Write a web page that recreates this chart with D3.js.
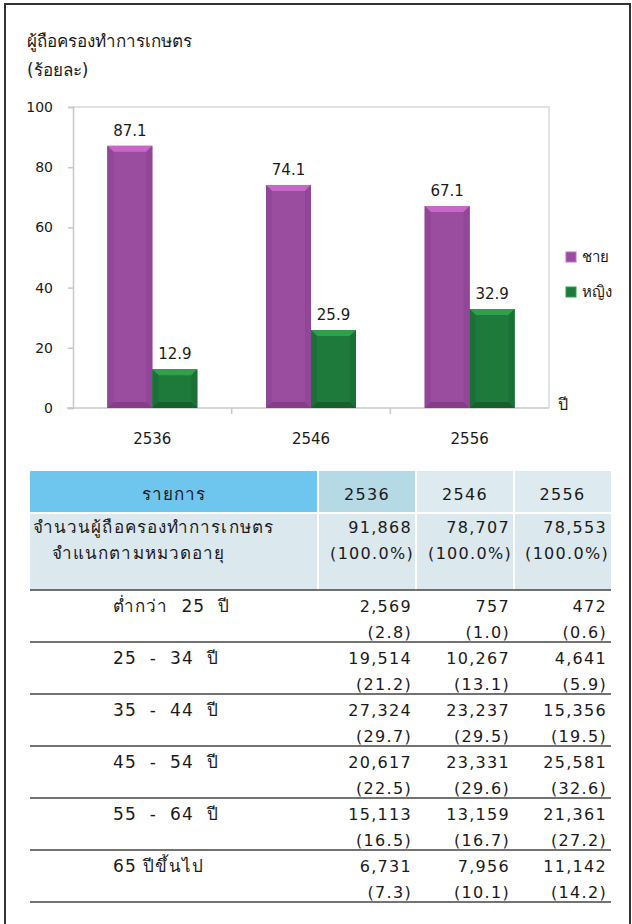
<!DOCTYPE html>
<html>
<head>
<meta charset="utf-8">
<script src="https://cdn.jsdelivr.net/npm/d3@7"></script>
<style>
    body { margin: 0; background: #fff; }
    svg text { font-family: "DejaVu Sans", sans-serif; fill: #1a1a1a; }
</style>
</head>
<body>
<div id="chart"></div>
<script>
const years = ["2536", "2546", "2556"];
const seriesNames = ["ชาย", "หญิง"];
const maleValues = [87.1, 74.1, 67.1];
const femaleValues = [12.9, 25.9, 32.9];
const yTicks = [0, 20, 40, 60, 80, 100];

const totalCounts = ["91,868", "78,707", "78,553"];
const totalShares = ["(100.0%)", "(100.0%)", "(100.0%)"];
const ageGroups = ["ต่ำกว่า  25  ปี", "25  -  34  ปี", "35  -  44  ปี", "45  -  54  ปี", "55  -  64  ปี", "65 ปีขึ้นไป"];
const ageCounts = [
    ["2,569", "757", "472"],
    ["19,514", "10,267", "4,641"],
    ["27,324", "23,237", "15,356"],
    ["20,617", "23,331", "25,581"],
    ["15,113", "13,159", "21,361"],
    ["6,731", "7,956", "11,142"],
];
const ageShares = [
    ["(2.8)", "(1.0)", "(0.6)"],
    ["(21.2)", "(13.1)", "(5.9)"],
    ["(29.7)", "(29.5)", "(19.5)"],
    ["(22.5)", "(29.6)", "(32.6)"],
    ["(16.5)", "(16.7)", "(27.2)"],
    ["(7.3)", "(10.1)", "(14.2)"],
];

const W = 632, H = 924;
const colors = {
    "ชาย": { main: "#9a4c9e", top: "#c768c6", side: "#914697", bottom: "#843d88" },
    "หญิง": { main: "#1e7a3b", top: "#2f9f4c", side: "#1b7038", bottom: "#16602e" },
};

const svg = d3.select("#chart").append("svg").attr("width", W).attr("height", H);

// outer frame
svg.append("rect").attr("x", 5).attr("y", 4).attr("width", 625).attr("height", H)
    .attr("fill", "none").attr("stroke", "#333").attr("stroke-width", 2);

// title
svg.append("text").attr("x", 27).attr("y", 47).style("font-size", "17px").text("ผู้ถือครองทำการเกษตร");
svg.append("text").attr("x", 27).attr("y", 76).style("font-size", "17px").text("(ร้อยละ)");

// ---- bar chart ----
const plot = { left: 73, right: 549, top: 107, bottom: 408 };
const x = d3.scaleBand().domain(years).range([plot.left, plot.right]);
const y = d3.scaleLinear().domain([0, 100]).range([plot.bottom, plot.top]);
const xs = d3.scaleBand().domain(seriesNames).range([-45, 45]);

// plot area frame (top + right)
svg.append("path")
    .attr("d", `M${plot.left},${plot.top}H${plot.right}V${plot.bottom}`)
    .attr("fill", "none").attr("stroke", "#d9d9d9").attr("stroke-width", 1.5);

const yAxis = svg.append("g").attr("transform", `translate(${plot.left},0)`)
    .call(d3.axisLeft(y).tickValues(yTicks).tickSize(5).tickPadding(15));
yAxis.select(".domain").attr("stroke", "#c8c8c8").attr("stroke-width", 1.5);
yAxis.selectAll(".tick line").attr("stroke", "#c8c8c8").attr("stroke-width", 1.5);
yAxis.selectAll("text").style("font-size", "14px").style("font-family", "'DejaVu Sans', sans-serif").attr("fill", "#1a1a1a");

const xAxis = svg.append("g").attr("transform", `translate(0,${plot.bottom})`)
    .call(d3.axisBottom(x).tickSize(0).tickPadding(25));
xAxis.select(".domain").attr("stroke", "#c8c8c8").attr("stroke-width", 1.5)
    .attr("d", `M${plot.left - 6},0H${plot.right}`);
xAxis.selectAll("text").style("font-size", "15px").style("font-family", "'DejaVu Sans', sans-serif").attr("fill", "#1a1a1a");
// category separators
xAxis.selectAll(".sep").data(years.slice(1)).enter().append("line")
    .attr("x1", d => x(d)).attr("x2", d => x(d)).attr("y1", 0).attr("y2", 6)
    .attr("stroke", "#c8c8c8").attr("stroke-width", 1.5);

const barData = [];
years.forEach((yr, i) => {
    barData.push({ year: yr, series: "ชาย", value: maleValues[i] });
    barData.push({ year: yr, series: "หญิง", value: femaleValues[i] });
});

const bevel = 6;
const bars = svg.append("g").selectAll("g").data(barData).enter().append("g");
bars.each(function (d) {
    const g = d3.select(this);
    const x0 = x(d.year) + x.bandwidth() / 2 + xs(d.series);
    const x1 = x0 + xs.bandwidth();
    const y0 = y(d.value), y1 = y(0);
    const c = colors[d.series];
    const b = Math.min(bevel, (y1 - y0) / 2);
    g.append("rect").attr("x", x0).attr("y", y0).attr("width", x1 - x0).attr("height", y1 - y0).attr("fill", c.main);
    const poly = (pts, fill) => g.append("polygon").attr("points", pts.map(p => p.join(",")).join(" ")).attr("fill", fill);
    poly([[x0, y0], [x1, y0], [x1 - b, y0 + b], [x0 + b, y0 + b]], c.top);
    poly([[x0, y0], [x0 + b, y0 + b], [x0 + b, y1 - b], [x0, y1]], c.side);
    poly([[x1, y0], [x1 - b, y0 + b], [x1 - b, y1 - b], [x1, y1]], c.side);
    poly([[x0, y1], [x0 + b, y1 - b], [x1 - b, y1 - b], [x1, y1]], c.bottom);
    g.append("text").attr("x", (x0 + x1) / 2).attr("y", y0 - 10)
        .attr("text-anchor", "middle").style("font-size", "15px").text(d.value.toFixed(1));
});

// legend
const legend = svg.append("g").selectAll("g").data(seriesNames).enter().append("g")
    .attr("transform", (d, i) => `translate(566,${252 + i * 35})`);
legend.append("rect").attr("width", 10).attr("height", 10)
    .attr("fill", d => colors[d].main).attr("stroke", d => colors[d].top).attr("stroke-width", 1);
legend.append("text").attr("x", 16).attr("y", 10).style("font-size", "15px").text(d => d);

svg.append("text").attr("x", 558).attr("y", 410).style("font-size", "16px").text("ปี");

// ---- table ----
const colEdges = [30, 318, 416, 514, 611];
const headTop = 471, headBottom = 513, row1Bottom = 590, groupH = 52;
const headFills = ["#6ec6ef", "#b5d9e5", "#ddebf0", "#ddebf0"];
const table = svg.append("g");
const thaiFont = "17px", numFont = "16px";
const thaiSpacing = "1.1px", numSpacing = "1.3px";

table.append("rect").attr("x", colEdges[0]).attr("y", headBottom)
    .attr("width", colEdges[4] - colEdges[0]).attr("height", row1Bottom - headBottom).attr("fill", "#dbe8ee");
table.selectAll(".head").data(headFills).enter().append("rect")
    .attr("x", (d, i) => colEdges[i]).attr("y", headTop)
    .attr("width", (d, i) => colEdges[i + 1] - colEdges[i]).attr("height", headBottom - headTop)
    .attr("fill", d => d);
// white separators
table.selectAll(".vsep").data(colEdges.slice(1, 4)).enter().append("line")
    .attr("x1", d => d).attr("x2", d => d).attr("y1", headTop).attr("y2", row1Bottom)
    .attr("stroke", "#fff").attr("stroke-width", 2);
table.append("line").attr("x1", colEdges[0]).attr("x2", colEdges[4])
    .attr("y1", headBottom).attr("y2", headBottom).attr("stroke", "#fff").attr("stroke-width", 2);

const headLabels = ["รายการ"].concat(years);
table.selectAll(".htext").data(headLabels).enter().append("text")
    .attr("x", (d, i) => (colEdges[i] + colEdges[i + 1]) / 2).attr("y", 500)
    .attr("text-anchor", "middle")
    .style("font-size", (d, i) => i === 0 ? thaiFont : numFont)
    .style("letter-spacing", (d, i) => i === 0 ? thaiSpacing : numSpacing).text(d => d);

table.append("text").attr("x", 33).attr("y", 533).style("font-size", thaiFont)
    .style("letter-spacing", thaiSpacing).text("จำนวนผู้ถือครองทำการเกษตร");
table.append("text").attr("x", 52).attr("y", 559).style("font-size", thaiFont)
    .style("letter-spacing", thaiSpacing).text("จำแนกตามหมวดอายุ");
years.forEach((yr, j) => {
    table.append("text").attr("x", colEdges[j + 2] - 4).attr("y", 533).attr("text-anchor", "end")
        .style("font-size", numFont).style("letter-spacing", numSpacing).text(totalCounts[j]);
    table.append("text").attr("x", colEdges[j + 2] - 2).attr("y", 559).attr("text-anchor", "end")
        .style("font-size", numFont).style("letter-spacing", numSpacing).text(totalShares[j]);
});

const lineY = [row1Bottom].concat(ageGroups.map((d, i) => row1Bottom + (i + 1) * groupH));
table.selectAll(".hline").data(lineY).enter().append("line")
    .attr("x1", colEdges[0]).attr("x2", colEdges[4]).attr("y1", d => d).attr("y2", d => d)
    .attr("stroke", "#444").attr("stroke-width", 1.5);

const groups = table.selectAll(".grp").data(ageGroups).enter().append("g")
    .attr("transform", (d, i) => `translate(0,${row1Bottom + i * groupH})`);
groups.append("text").attr("x", 113).attr("y", 22).style("font-size", thaiFont)
    .style("letter-spacing", thaiSpacing).style("white-space", "pre").attr("xml:space", "preserve").text(d => d);
groups.each(function (d, i) {
    const g = d3.select(this);
    years.forEach((yr, j) => {
        g.append("text").attr("x", colEdges[j + 2] - 4).attr("y", 22).attr("text-anchor", "end")
            .style("font-size", numFont).style("letter-spacing", numSpacing).text(ageCounts[i][j]);
        g.append("text").attr("x", colEdges[j + 2] - 4).attr("y", 48).attr("text-anchor", "end")
            .style("font-size", numFont).style("letter-spacing", numSpacing).text(ageShares[i][j]);
    });
});
</script>
</body>
</html>
